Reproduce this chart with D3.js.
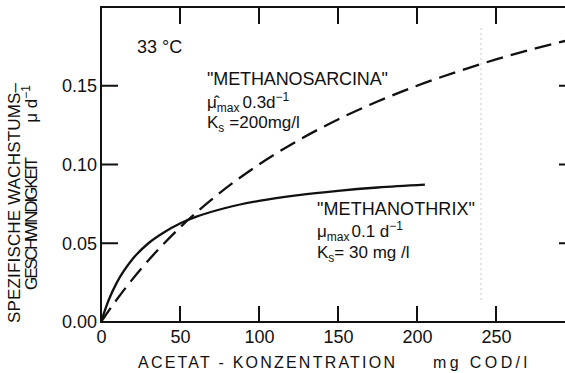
<!DOCTYPE html>
<html>
<head>
<meta charset="utf-8">
<script src="https://cdn.jsdelivr.net/npm/d3@7"></script>
<style>
  body { margin: 0; background: #fff; }
  svg text { font-family: "Liberation Sans", Arial, sans-serif; fill: #111; }
</style>
</head>
<body>
<script>
// acetate concentration (mg COD/l) and growth rate (1/d)
const thrixS = [0, 5, 10, 20, 30, 40, 50, 60, 80, 100, 125, 150, 175, 205];
const thrixMu = [0, 0.0143, 0.025, 0.04, 0.05, 0.057, 0.0625, 0.0667, 0.0727, 0.0769, 0.0806, 0.0833, 0.0854, 0.0872];
const sarcinaS = [0, 10, 25, 50, 75, 100, 125, 150, 175, 200, 225, 250, 275, 300];
const sarcinaMu = [0, 0.0143, 0.0333, 0.06, 0.0818, 0.1, 0.1154, 0.1286, 0.14, 0.15, 0.1588, 0.1667, 0.1737, 0.18];
const xTicks = [0, 50, 100, 150, 200, 250];
const yTicks = [0, 0.05, 0.10, 0.15];

const W = 565, H = 373;
const x = d3.scaleLinear().domain([0, 300]).range([101, 575]);
const y = d3.scaleLinear().domain([0, 0.2]).range([322, 7]);

const svg = d3.select("body").append("svg")
  .attr("width", W).attr("height", H);

// faint fold line from the scan
svg.append("line")
  .attr("x1", 481).attr("x2", 481).attr("y1", 28).attr("y2", 300)
  .attr("stroke", "#c8c8c8").attr("stroke-width", 1)
  .attr("stroke-dasharray", "2,3");

// tick labels from the axes
const gBottom = svg.append("g")
  .attr("transform", `translate(0,${y(0)})`)
  .call(d3.axisBottom(x).tickValues(xTicks).tickSize(0).tickPadding(8)
    .tickFormat(d3.format("d")));
gBottom.select(".domain").remove();
gBottom.selectAll("text").style("font-size", "18px");

const gLeft = svg.append("g")
  .attr("transform", `translate(${x(0)},0)`)
  .call(d3.axisLeft(y).tickValues(yTicks).tickSize(0).tickPadding(4)
    .tickFormat(d3.format(".2f")));
gLeft.select(".domain").remove();
gLeft.selectAll("text").style("font-size", "18px");

// curves
const curve = d3.line().x(d => x(d[0])).y(d => y(d[1])).curve(d3.curveMonotoneX);

svg.append("path")
  .datum(d3.zip(sarcinaS, sarcinaMu))
  .attr("d", curve)
  .attr("fill", "none").attr("stroke", "#111").attr("stroke-width", 2.3)
  .attr("stroke-dasharray", "17,8");

svg.append("path")
  .datum(d3.zip(thrixS, thrixMu))
  .attr("d", curve)
  .attr("fill", "none").attr("stroke", "#111").attr("stroke-width", 2.3);

// temperature
svg.append("text").attr("x", 137).attr("y", 53).style("font-size", "18px").text("33 \u00b0C");

// Methanosarcina label
svg.append("text").attr("x", 207).attr("y", 85).style("font-size", "18px")
  .attr("textLength", 181).text("\"METHANOSARCINA\"");
const s2 = svg.append("text").attr("x", 207).attr("y", 108).style("font-size", "17px");
s2.append("tspan").text("\u03bc\u0302");
s2.append("tspan").attr("dy", 4).style("font-size", "12px").text("max");
s2.append("tspan").attr("dy", -4).attr("dx", 3).text("0.3d");
s2.append("tspan").attr("dy", -7).style("font-size", "12px").text("−1");
const s3 = svg.append("text").attr("x", 207).attr("y", 128).style("font-size", "17px");
s3.append("tspan").text("K");
s3.append("tspan").attr("dy", 4).style("font-size", "12px").text("s");
s3.append("tspan").attr("dy", -4).attr("dx", 5).text("=200mg/l");

// Methanothrix label
svg.append("text").attr("x", 317).attr("y", 215).style("font-size", "18px")
  .attr("textLength", 158).text("\"METHANOTHRIX\"");
const t2 = svg.append("text").attr("x", 317).attr("y", 237).style("font-size", "17px");
t2.append("tspan").text("\u03bc");
t2.append("tspan").attr("dy", 4).style("font-size", "12px").text("max");
t2.append("tspan").attr("dy", -4).attr("dx", 2).text("0.1 d");
t2.append("tspan").attr("dy", -7).style("font-size", "12px").text("−1");
const t3 = svg.append("text").attr("x", 317).attr("y", 258).style("font-size", "17px");
t3.append("tspan").text("K");
t3.append("tspan").attr("dy", 4).style("font-size", "12px").text("s");
t3.append("tspan").attr("dy", -4).text("=  30 mg /l");

// x title
svg.append("text").attr("x", 138).attr("y", 368).style("font-size", "16px")
  .attr("textLength", 257).attr("lengthAdjust", "spacing").text("ACETAT - KONZENTRATION");
svg.append("text").attr("x", 433).attr("y", 368).style("font-size", "16px")
  .attr("textLength", 94).attr("lengthAdjust", "spacing").text("mg COD/l");

// y title, two rotated lines
svg.append("text").attr("transform", "translate(20,323) rotate(-90)").style("font-size", "17px")
  .attr("textLength", 240).attr("lengthAdjust", "spacing").text("SPEZIFISCHE  WACHSTUMS–");
svg.append("text").attr("transform", "translate(37,290) rotate(-90)").style("font-size", "17px")
  .attr("textLength", 133).attr("lengthAdjust", "spacing").text("GESCHWINDIGKEIT");
const yu = svg.append("text").attr("transform", "translate(37,85) rotate(-90)")
  .attr("text-anchor", "end").style("font-size", "17px");
yu.append("tspan").text("\u03bc  d");
yu.append("tspan").attr("dy", -7).style("font-size", "12px").text("−1");

// frame and inward tick marks, drawn last as one path
const p = d3.path();
p.moveTo(x(300), y(0.2)); p.lineTo(x(0), y(0.2)); p.lineTo(x(0), y(0)); p.lineTo(x(300), y(0));
xTicks.filter(d => d > 0).forEach(d => {
  p.moveTo(x(d), y(0)); p.lineTo(x(d), y(0) - 16);
  p.moveTo(x(d), y(0.2)); p.lineTo(x(d), y(0.2) + 17);
});
yTicks.filter(d => d > 0).forEach(d => {
  p.moveTo(x(0), y(d)); p.lineTo(x(0) + 17, y(d));
  p.moveTo(x(300), y(d)); p.lineTo(x(300) - 16, y(d));
});
svg.append("path")
  .attr("d", p.toString())
  .attr("fill", "none").attr("stroke", "#111").attr("stroke-width", 2);
</script>
</body>
</html>
